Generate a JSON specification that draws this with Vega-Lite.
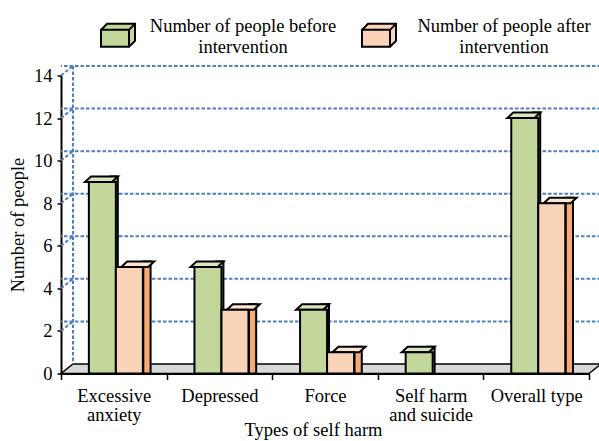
{
  "$schema": "https://vega.github.io/schema/vega-lite/v6.json",
  "width": 528,
  "height": 298,
  "autosize": {"type": "none"},
  "padding": {"left": 61, "top": 75.5, "right": 10, "bottom": 67.5},
  "background": "white",
  "config": {
    "view": {"stroke": null},
    "font": "Liberation Serif",
    "style": {"guide-label": {"lineHeight": 21}}
  },
  "datasets": {
    "counts": [
      {"type": "Excessive anxiety", "group": "Number of people before intervention", "n": 9},
      {"type": "Excessive anxiety", "group": "Number of people after intervention", "n": 5},
      {"type": "Depressed", "group": "Number of people before intervention", "n": 5},
      {"type": "Depressed", "group": "Number of people after intervention", "n": 3},
      {"type": "Force", "group": "Number of people before intervention", "n": 3},
      {"type": "Force", "group": "Number of people after intervention", "n": 1},
      {"type": "Self harm and suicide", "group": "Number of people before intervention", "n": 1},
      {"type": "Self harm and suicide", "group": "Number of people after intervention", "n": 0},
      {"type": "Overall type", "group": "Number of people before intervention", "n": 12},
      {"type": "Overall type", "group": "Number of people after intervention", "n": 8}
    ],
    "grid": [{"v": 0}, {"v": 2}, {"v": 4}, {"v": 6}, {"v": 8}, {"v": 10}, {"v": 12}, {"v": 14}]
  },
  "resolve": {"scale": {"xOffset": "independent"}},
  "layer": [
    {
      "data": {"name": "grid"},
      "transform": [{"filter": "datum.v == 0"}],
      "mark": {"type": "point", "shape": "M0,0 L528,0 L540,-9.5 L12,-9.5 Z", "size": 4, "filled": true, "opacity": 1, "fill": "#D9D9D9", "stroke": "black", "strokeWidth": 1.5},
      "encoding": {
        "x": {"datum": "Excessive anxiety", "type": "nominal", "bandPosition": 0},
        "y": {"field": "v", "type": "quantitative"}
      }
    },
    {
      "data": {"name": "grid"},
      "transform": [{"filter": "datum.v > 0"}],
      "mark": {"type": "rule", "xOffset": 12, "x2Offset": 12, "yOffset": -9.5, "stroke": "#4F7EC0", "strokeWidth": 2, "strokeDash": [3.5, 2]},
      "encoding": {
        "y": {"field": "v", "type": "quantitative"}
      }
    },
    {
      "data": {"name": "grid"},
      "transform": [{"filter": "datum.v > 0"}],
      "mark": {"type": "rule", "x2Offset": 12, "y2Offset": -9.5, "stroke": "#4F7EC0", "strokeWidth": 2, "strokeDash": [3.5, 2]},
      "encoding": {
        "x": {"datum": "Excessive anxiety", "type": "nominal", "bandPosition": 0},
        "x2": {"datum": "Excessive anxiety", "bandPosition": 0},
        "y": {"field": "v", "type": "quantitative"},
        "y2": {"field": "v"}
      }
    },
    {
      "data": {"name": "grid"},
      "transform": [{"filter": "datum.v == 14"}],
      "mark": {"type": "rule", "xOffset": 12, "yOffset": -9.5, "y2Offset": -9.5, "stroke": "#4F7EC0", "strokeWidth": 2, "strokeDash": [3.5, 2]},
      "encoding": {
        "x": {"datum": "Excessive anxiety", "type": "nominal", "bandPosition": 0},
        "y": {"field": "v", "type": "quantitative"},
        "y2": {"datum": 0}
      }
    },
    {
      "data": {"name": "counts"},
      "transform": [{"filter": "datum.n > 0"}],
      "mark": {"type": "bar", "yOffset": -5.5, "stroke": "black", "strokeWidth": 2, "strokeJoin": "miter"},
      "encoding": {
        "x": {"field": "type", "type": "nominal"},
        "xOffset": {
          "field": "group",
          "type": "nominal",
          "scale": {
            "domain": ["Number of people before intervention", "Number of people after intervention"],
            "paddingInner": 0.77778,
            "paddingOuter": 1.34444,
            "align": 0.7557
          }
        },
        "y": {"field": "n", "type": "quantitative", "stack": null},
        "fill": {
          "condition": {"test": "datum.group == 'Number of people before intervention'", "value": "#A5C26B"},
          "value": "#F6AB74"
        }
      }
    },
    {
      "data": {"name": "counts"},
      "transform": [{"filter": "datum.n > 0"}],
      "mark": {"type": "point", "shape": "M-13.5,0 L13.5,0 L19.5,-5.5 L-7.5,-5.5 Z", "size": 4, "filled": true, "opacity": 1, "stroke": "black", "strokeWidth": 2, "strokeJoin": "miter"},
      "encoding": {
        "x": {"field": "type", "type": "nominal"},
        "xOffset": {
          "field": "group",
          "type": "nominal",
          "scale": {
            "domain": ["Number of people before intervention", "Number of people after intervention"],
            "paddingInner": 0,
            "paddingOuter": 0.9556,
            "align": 0.54
          }
        },
        "y": {"field": "n", "type": "quantitative"},
        "fill": {
          "condition": {"test": "datum.group == 'Number of people before intervention'", "value": "#D8E5BE"},
          "value": "#FDE5D2"
        }
      }
    },
    {
      "data": {"name": "counts"},
      "transform": [{"filter": "datum.n > 0"}],
      "mark": {"type": "bar", "stroke": "black", "strokeWidth": 2, "strokeJoin": "miter"},
      "encoding": {
        "x": {
          "field": "type",
          "type": "nominal",
          "scale": {
            "domain": ["Excessive anxiety", "Depressed", "Force", "Self harm and suicide", "Overall type"],
            "paddingInner": 0,
            "paddingOuter": 0
          },
          "axis": {
            "title": "Types of self harm",
            "titleFont": "Liberation Serif",
            "titleFontSize": 18.5,
            "titleFontWeight": "normal",
            "titleColor": "black",
            "titlePadding": -4,
            "titleX": 252,
            "labelAngle": 0,
            "labelAlign": "center",
            "labelFont": "Liberation Serif",
            "labelFontSize": 18.5,
            "labelColor": "black",
            "labelPadding": 16,
            "labelLineHeight": 19,
            "labelLimit": 200,
            "labelExpr": "datum.value == 'Excessive anxiety' ? ['Excessive', 'anxiety'] : datum.value == 'Self harm and suicide' ? ['Self harm', 'and suicide'] : datum.value",
            "domainColor": "black",
            "domainWidth": 2,
            "ticks": true,
            "tickColor": "black",
            "tickWidth": 1.5,
            "tickSize": 6,
            "tickBand": "extent"
          }
        },
        "xOffset": {
          "field": "group",
          "type": "nominal",
          "scale": {
            "domain": ["Number of people before intervention", "Number of people after intervention"],
            "paddingInner": 0,
            "paddingOuter": 0.9556,
            "align": 0.54
          }
        },
        "y": {
          "field": "n",
          "type": "quantitative",
          "stack": null,
          "scale": {"domain": [0, 14], "nice": false},
          "axis": {
            "title": "Number of people",
            "titleFont": "Liberation Serif",
            "titleFontSize": 18.5,
            "titleFontWeight": "normal",
            "titleColor": "black",
            "titlePadding": 6,
            "values": [0, 2, 4, 6, 8, 10, 12, 14],
            "grid": false,
            "labelFont": "Liberation Serif",
            "labelFontSize": 18.5,
            "labelColor": "black",
            "labelPadding": 5,
            "domainColor": "black",
            "domainWidth": 2,
            "ticks": true,
            "tickColor": "black",
            "tickWidth": 1.5,
            "tickSize": 4
          }
        },
        "fill": {
          "field": "group",
          "type": "nominal",
          "scale": {
            "domain": ["Number of people before intervention", "Number of people after intervention"],
            "range": ["#C3D69B", "#FAD4B8"]
          },
          "legend": {
            "title": null,
            "orient": "none",
            "legendX": 39,
            "legendY": -68,
            "direction": "horizontal",
            "padding": 0,
            "columnPadding": 21,
            "symbolType": "M-1,0.241 L0.647,0.241 L0.647,1.24 L-1,1.24 Z M-1,0.241 L-0.647,-0.112 L1,-0.112 L1,0.888 L0.647,1.24 M0.647,0.241 L1,-0.112",
            "symbolSize": 1156,
            "symbolStrokeColor": "black",
            "symbolStrokeWidth": 2,
            "symbolOpacity": 1,
            "labelAlign": "center",
            "labelOffset": 107,
            "labelFont": "Liberation Serif",
            "labelFontSize": 18.5,
            "labelColor": "black",
            "labelLimit": 400,
            "labelExpr": "[replace(datum.label, ' intervention', ''), 'intervention']"
          }
        }
      }
    }
  ]
}
